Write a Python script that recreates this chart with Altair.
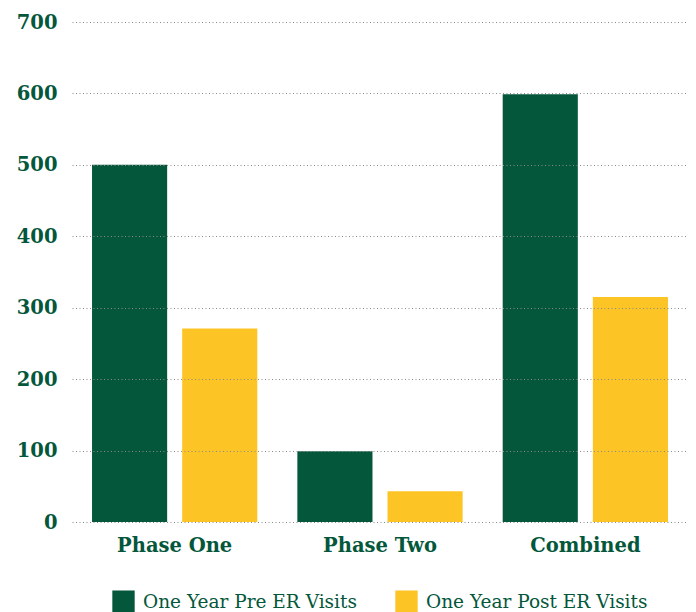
import altair as alt
import pandas as pd

phases = ["Phase One", "Phase Two", "Combined"]
series = ["One Year Pre ER Visits", "One Year Post ER Visits"]
pre_visits = [500, 99, 599]
post_visits = [271, 43, 315]

GREEN = "#04573b"
YELLOW = "#fdc425"

rows = []
for p, a, b in zip(phases, pre_visits, post_visits):
    rows.append({"phase": p, "series": series[0], "visits": a})
    rows.append({"phase": p, "series": series[1], "visits": b})
df = pd.DataFrame(rows)

chart = (
    alt.Chart(df)
    .mark_bar()
    .encode(
        x=alt.X(
            "phase:N",
            sort=phases,
            scale=alt.Scale(paddingInner=0, paddingOuter=0),
            axis=alt.Axis(
                title=None,
                labelAngle=0,
                labelFont="DejaVu Serif",
                labelFontWeight="bold",
                labelFontSize=19.5,
                labelColor=GREEN,
                labelPadding=14,
                domain=False,
                ticks=False,
                grid=False,
            ),
        ),
        xOffset=alt.XOffset(
            "series:N",
            sort=series,
            scale=alt.Scale(paddingInner=0.1667, paddingOuter=0.2222),
        ),
        y=alt.Y(
            "visits:Q",
            scale=alt.Scale(domain=[0, 700]),
            axis=alt.Axis(
                title=None,
                values=[0, 100, 200, 300, 400, 500, 600, 700],
                labelFont="DejaVu Serif",
                labelFontWeight="bold",
                labelFontSize=19.5,
                labelColor=GREEN,
                labelPadding=15,
                domain=False,
                ticks=False,
                grid=True,
                gridColor="#8a8a8a",
                gridDash=[1, 2.5],
                gridWidth=1,
                zindex=1,
            ),
        ),
        color=alt.Color(
            "series:N",
            sort=series,
            scale=alt.Scale(domain=series, range=[GREEN, YELLOW]),
            legend=alt.Legend(
                title=None,
                orient="none",
                legendX=40,
                legendY=568,
                direction="horizontal",
                columns=2,
                symbolType="square",
                symbolSize=500,
                symbolStrokeWidth=0,
                labelFont="DejaVu Serif",
                labelFontSize=18.5,
                labelColor=GREEN,
                labelOffset=8,
                columnPadding=38,
                labelLimit=400,
            ),
        ),
    )
    .properties(
        width=616,
        height=500,
        autosize=alt.AutoSizeParams(type="none"),
        padding={"left": 72, "top": 22, "right": 8, "bottom": 90},
    )
    .configure(background="white")
    .configure_view(strokeWidth=0, stroke="transparent")
)

chart.save("out.html", embed_options={"renderer": "svg", "actions": False})
